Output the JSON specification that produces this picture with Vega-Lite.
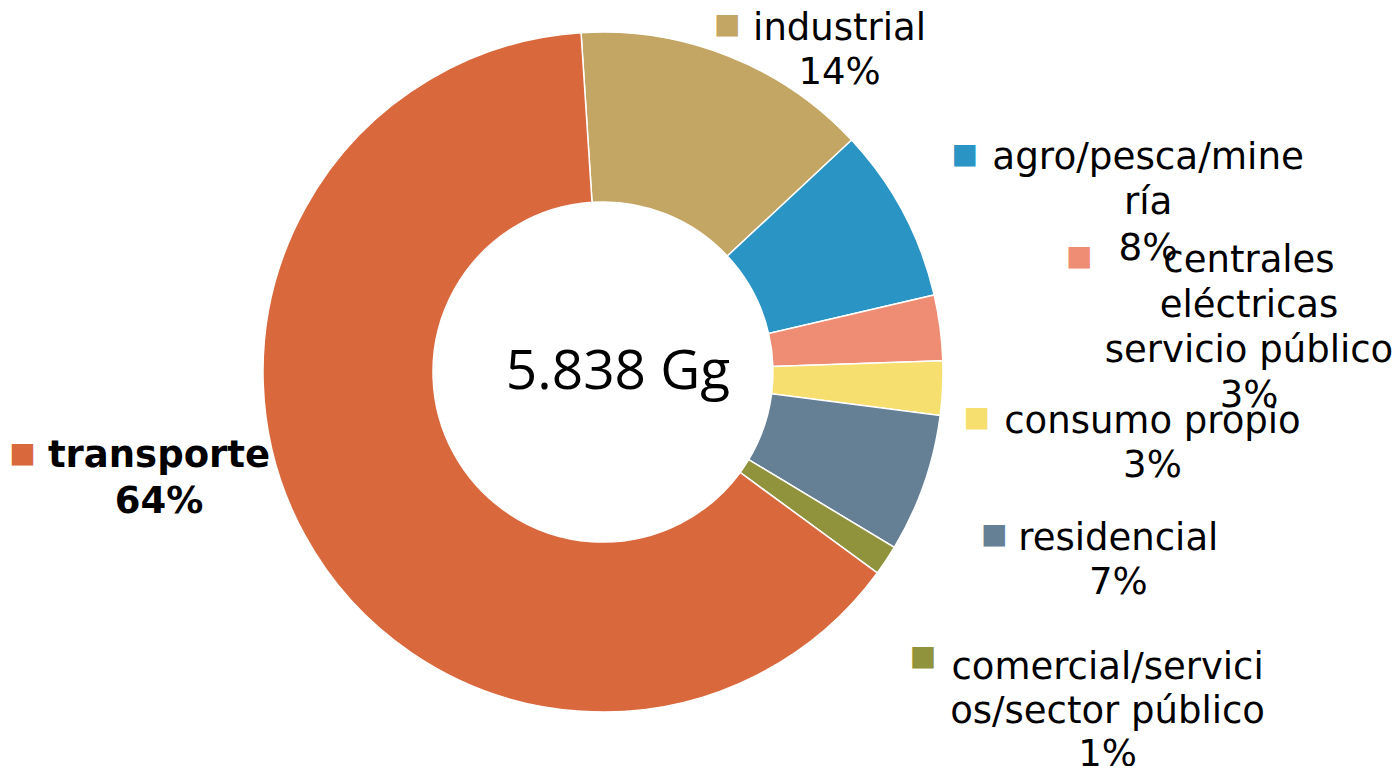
{
  "$schema": "https://vega.github.io/schema/vega-lite/v6.json",
  "width": 1206,
  "height": 744,
  "padding": {"left": 0, "top": 0, "right": 192, "bottom": 22},
  "autosize": {"type": "none"},
  "background": "white",
  "config": {"view": {"stroke": null}},
  "layer": [
    {
      "data": {
        "values": [
          {"sector": "industrial", "gg": 822, "orden": 1, "etiqueta": "industrial\n14%"},
          {"sector": "agro/pesca/minería", "gg": 485, "orden": 2, "etiqueta": "agro/pesca/mine\nría\n8%"},
          {"sector": "centrales eléctricas servicio público", "gg": 182, "orden": 3, "etiqueta": "centrales\neléctricas\nservicio público\n3%"},
          {"sector": "consumo propio", "gg": 150, "orden": 4, "etiqueta": "consumo propio\n3%"},
          {"sector": "residencial", "gg": 384, "orden": 5, "etiqueta": "residencial\n7%"},
          {"sector": "comercial/servicios/sector público", "gg": 84, "orden": 6, "etiqueta": "comercial/servici\nos/sector público\n1%"},
          {"sector": "transporte", "gg": 3731, "orden": 7, "etiqueta": "transporte\n64%"}
        ]
      },
      "encoding": {
        "theta": {"field": "gg", "type": "quantitative", "stack": true, "scale": {"range": [-0.0646, 6.2186]}},
        "order": {"field": "orden", "type": "quantitative"},
        "detail": {"field": "sector", "type": "nominal"},
        "color": {
          "field": "sector", "type": "nominal", "legend": null,
          "scale": {
            "domain": ["industrial", "agro/pesca/minería", "centrales eléctricas servicio público", "consumo propio", "residencial", "comercial/servicios/sector público", "transporte"],
            "range": ["#C4A664", "#2A95C4", "#EF8D74", "#F7DF6F", "#657F95", "#90933C", "#D9683D"]
          }
        }
      },
      "layer": [
        {"mark": {"type": "arc", "outerRadius": 340, "innerRadius": 170, "stroke": "white", "strokeWidth": 1.5}},

        {"mark": {"type": "text", "radius": 396, "dx": 90.5, "dy": 36, "align": "center", "baseline": "alphabetic", "font": "DejaVu Sans", "fontSize": 37, "lineHeight": 44.5, "lineBreak": "\n"},
         "encoding": {"color": {"value": "#000000"}, "text": {"condition": {"test": "datum.sector === 'industrial'", "field": "etiqueta", "type": "nominal"}, "value": ""}}},
        {"mark": {"type": "text", "radius": 577, "dx": 36, "dy": 68, "align": "center", "baseline": "alphabetic", "font": "DejaVu Sans", "fontSize": 37.3, "lineHeight": 45.5, "lineBreak": "\n"},
         "encoding": {"color": {"value": "#000000"}, "text": {"condition": {"test": "datum.sector === 'agro/pesca/minería'", "field": "etiqueta", "type": "nominal"}, "value": ""}}},
        {"mark": {"type": "text", "radius": 654, "dx": -2.4, "dy": -15, "align": "center", "baseline": "alphabetic", "font": "DejaVu Sans", "fontSize": 37, "lineHeight": 45, "lineBreak": "\n"},
         "encoding": {"color": {"value": "#000000"}, "text": {"condition": {"test": "datum.sector === 'centrales eléctricas servicio público'", "field": "etiqueta", "type": "nominal"}, "value": ""}}},
        {"mark": {"type": "text", "radius": 552, "dx": -1.9, "dy": 34.2, "align": "center", "baseline": "alphabetic", "font": "DejaVu Sans", "fontSize": 37, "lineHeight": 44.5, "lineBreak": "\n"},
         "encoding": {"color": {"value": "#000000"}, "text": {"condition": {"test": "datum.sector === 'consumo propio'", "field": "etiqueta", "type": "nominal"}, "value": ""}}},
        {"mark": {"type": "text", "radius": 545, "dx": 0.7, "dy": -1.3, "align": "center", "baseline": "alphabetic", "font": "DejaVu Sans", "fontSize": 37, "lineHeight": 44, "lineBreak": "\n"},
         "encoding": {"color": {"value": "#000000"}, "text": {"condition": {"test": "datum.sector === 'residencial'", "field": "etiqueta", "type": "nominal"}, "value": ""}}},
        {"mark": {"type": "text", "radius": 582, "dx": 20, "dy": -15.2, "align": "center", "baseline": "alphabetic", "font": "DejaVu Sans", "fontSize": 37, "lineHeight": 43.4, "lineBreak": "\n"},
         "encoding": {"color": {"value": "#000000"}, "text": {"condition": {"test": "datum.sector === 'comercial/servicios/sector público'", "field": "etiqueta", "type": "nominal"}, "value": ""}}},
        {"mark": {"type": "text", "radius": 435, "dx": -62.6, "dy": -114.5, "align": "center", "baseline": "alphabetic", "font": "DejaVu Sans", "fontSize": 37, "fontWeight": "bold", "lineHeight": 46, "lineBreak": "\n"},
         "encoding": {"color": {"value": "#000000"}, "text": {"condition": {"test": "datum.sector === 'transporte'", "field": "etiqueta", "type": "nominal"}, "value": ""}}},

        {"mark": {"type": "text", "radius": 396, "dx": -21.8, "dy": 20.9, "align": "center", "baseline": "middle", "font": "DejaVu Sans", "fontSize": 28},
         "encoding": {"text": {"condition": {"test": "datum.sector === 'industrial'", "value": "■"}, "value": ""}}},
        {"mark": {"type": "text", "radius": 577, "dx": -147.4, "dy": 54.2, "align": "center", "baseline": "middle", "font": "DejaVu Sans", "fontSize": 28},
         "encoding": {"text": {"condition": {"test": "datum.sector === 'agro/pesca/minería'", "value": "■"}, "value": ""}}},
        {"mark": {"type": "text", "radius": 654, "dx": -172.2, "dy": -29.5, "align": "center", "baseline": "middle", "font": "DejaVu Sans", "fontSize": 28},
         "encoding": {"text": {"condition": {"test": "datum.sector === 'centrales eléctricas servicio público'", "value": "■"}, "value": ""}}},
        {"mark": {"type": "text", "radius": 552, "dx": -177.6, "dy": 19.7, "align": "center", "baseline": "middle", "font": "DejaVu Sans", "fontSize": 28},
         "encoding": {"text": {"condition": {"test": "datum.sector === 'consumo propio'", "value": "■"}, "value": ""}}},
        {"mark": {"type": "text", "radius": 545, "dx": -123.4, "dy": -16.5, "align": "center", "baseline": "middle", "font": "DejaVu Sans", "fontSize": 28},
         "encoding": {"text": {"condition": {"test": "datum.sector === 'residencial'", "value": "■"}, "value": ""}}},
        {"mark": {"type": "text", "radius": 582, "dx": -164.5, "dy": -37, "align": "center", "baseline": "middle", "font": "DejaVu Sans", "fontSize": 28},
         "encoding": {"text": {"condition": {"test": "datum.sector === 'comercial/servicios/sector público'", "value": "■"}, "value": ""}}},
        {"mark": {"type": "text", "radius": 435, "dx": -199.1, "dy": -127, "align": "center", "baseline": "middle", "font": "DejaVu Sans", "fontSize": 28},
         "encoding": {"text": {"condition": {"test": "datum.sector === 'transporte'", "value": "■"}, "value": ""}}}
      ]
    },
    {
      "data": {"values": [{"total": "5.838 Gg"}]},
      "mark": {"type": "text", "align": "center", "baseline": "middle", "dx": 15, "font": "Open Sans", "fontSize": 55, "color": "#000000"},
      "encoding": {"text": {"field": "total", "type": "nominal"}}
    }
  ]
}
